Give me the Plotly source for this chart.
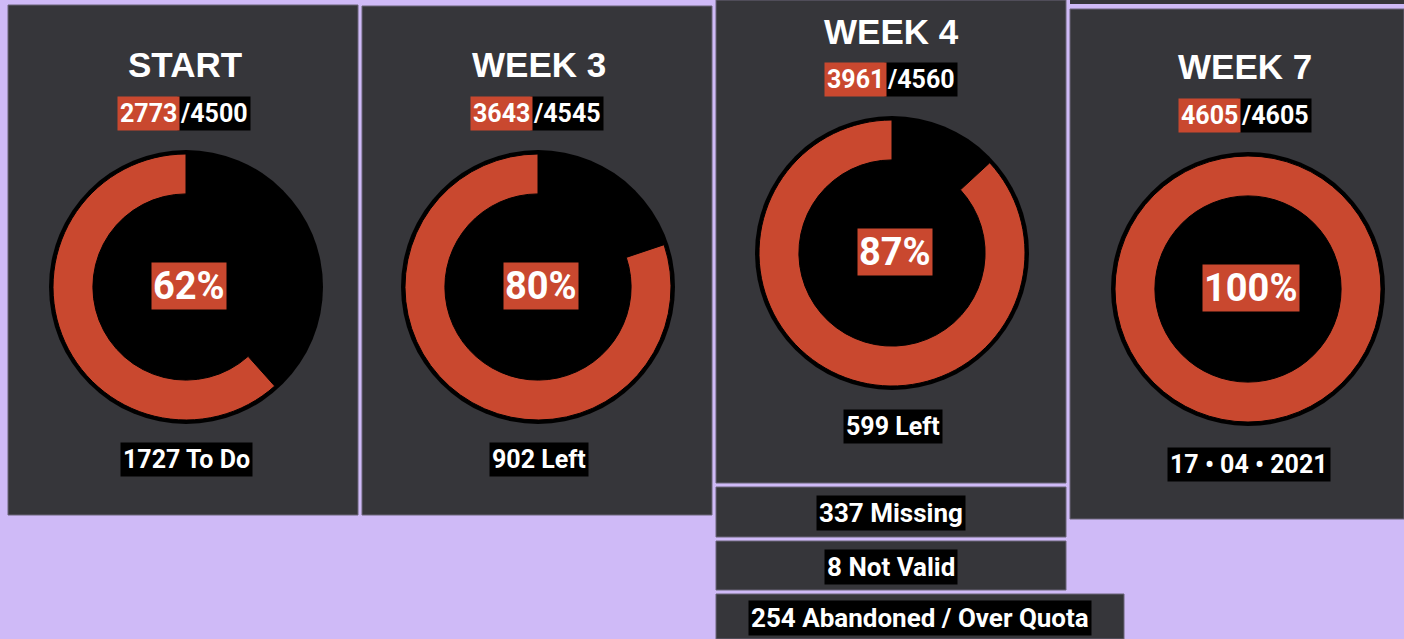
import plotly.graph_objects as go

W, H = 1404, 639

# ---- data ----
titles = ["START", "WEEK 3", "WEEK 4", "WEEK 7"]
done = [2773, 3643, 3961, 4605]
total = [4500, 4545, 4560, 4605]
footers = ["1727 To Do", "902 Left", "599 Left", "17 • 04 • 2021"]
breakdown_labels = ["337 Missing", "8 Not Valid", "254 Abandoned / Over Quota"]

# ---- layout (pixel positions) ----
panels = [(8, 5, 358, 515), (362, 6, 712, 515), (716, 0, 1066, 483), (1070, 9, 1404, 519)]
centers = [(186, 287), (538, 287), (892, 253), (1248, 289)]
title_x = [185, 539, 891, 1245]
title_y = [64, 64, 31, 67]
frac_split = [180, 533, 887, 1241]
frac_y = [113, 113, 79, 116]
footer_y = [460, 460, 426, 464]
sub_boxes = [(716, 487, 1066, 537), (716, 541, 1066, 590), (716, 594, 1124, 639)]

BG = "#cfbaf7"
PANEL = "#36363a"
EDGE = "#6a6478"
RED = "#c9482f"
R_OUT = 137
R_PIE = 133

def px(x):
    return x / W

def py(y):
    return 1 - y / H

fig = go.Figure()
shapes = []
annotations = []

# small dark strip at top right
shapes.append(dict(type="rect", xref="paper", yref="paper", x0=px(1070), x1=px(1404),
                   y0=py(4), y1=py(0), fillcolor=PANEL, line=dict(width=0), layer="below"))

for (x0, y0, x1, y1) in panels + sub_boxes:
    shapes.append(dict(type="rect", xref="paper", yref="paper", x0=px(x0), x1=px(x1),
                       y0=py(y1), y1=py(y0), fillcolor=PANEL,
                       line=dict(color=EDGE, width=1), layer="below"))

title_font = dict(family="Liberation Sans, Arial, sans-serif", size=35, color="white", weight="bold")
lab_font = dict(family="Roboto, sans-serif", size=25, color="white", weight="bold")

for i in range(4):
    cx, cy = centers[i]
    # outer black ring
    shapes.append(dict(type="circle", xref="paper", yref="paper",
                       x0=px(cx - R_OUT), x1=px(cx + R_OUT), y0=py(cy + R_OUT), y1=py(cy - R_OUT),
                       fillcolor="black", line=dict(width=0), layer="below"))
    fig.add_trace(go.Pie(
        values=[total[i] - done[i], done[i]],
        labels=["Remaining", "Done"],
        marker=dict(colors=["black", RED], line=dict(color="black", width=1)),
        hole=0.70, sort=False, direction="clockwise", rotation=0,
        textinfo="none", hoverinfo="skip", showlegend=False,
        domain=dict(x=[px(cx - R_PIE), px(cx + R_PIE)], y=[py(cy + R_PIE), py(cy - R_PIE)]),
    ))
    pct = round(100 * done[i] / total[i])
    annotations.append(dict(xref="paper", yref="paper", x=px(cx + 3), y=py(cy - 1),
                            text=f"{pct}%", showarrow=False, bgcolor=RED, borderpad=1,
                            font=dict(family="Roboto, sans-serif", size=38, color="white", weight="bold"),
                            xanchor="center", yanchor="middle"))
    annotations.append(dict(xref="paper", yref="paper", x=px(title_x[i]),
                            y=py(title_y[i]), text=titles[i], showarrow=False, font=title_font,
                            xanchor="center", yanchor="middle"))
    annotations.append(dict(xref="paper", yref="paper", x=px(frac_split[i] - 3), y=py(frac_y[i]),
                            text=f"/{total[i]}", showarrow=False, bgcolor="black", borderpad=2,
                            font=lab_font, xanchor="left", yanchor="middle"))
    annotations.append(dict(xref="paper", yref="paper", x=px(frac_split[i]), y=py(frac_y[i]),
                            text=f"{done[i]}", showarrow=False, bgcolor=RED, borderpad=2,
                            font=lab_font, xanchor="right", yanchor="middle"))
    annotations.append(dict(xref="paper", yref="paper", x=px(cx + 1), y=py(footer_y[i]),
                            text=footers[i], showarrow=False, bgcolor="black", borderpad=2,
                            font=lab_font, xanchor="center", yanchor="middle"))

for lab, (x0, y0, x1, y1) in zip(breakdown_labels, sub_boxes):
    cx_b = 891 if x1 < 1100 else 920
    annotations.append(dict(xref="paper", yref="paper", x=px(cx_b), y=py((y0 + y1) / 2 + 1),
                            text=lab, showarrow=False, bgcolor="black", borderpad=2,
                            font=dict(family="Roboto, sans-serif", size=26, color="white", weight="bold"),
                            xanchor="center", yanchor="middle"))

fig.update_layout(
    width=W, height=H, margin=dict(l=0, r=0, t=0, b=0),
    paper_bgcolor=BG, plot_bgcolor=BG,
    shapes=shapes, annotations=annotations, showlegend=False,
)

fig.write_html("out.html", config={"displayModeBar": False},
               post_script="document.body.style.margin='0';document.body.style.background='" + BG + "';")
